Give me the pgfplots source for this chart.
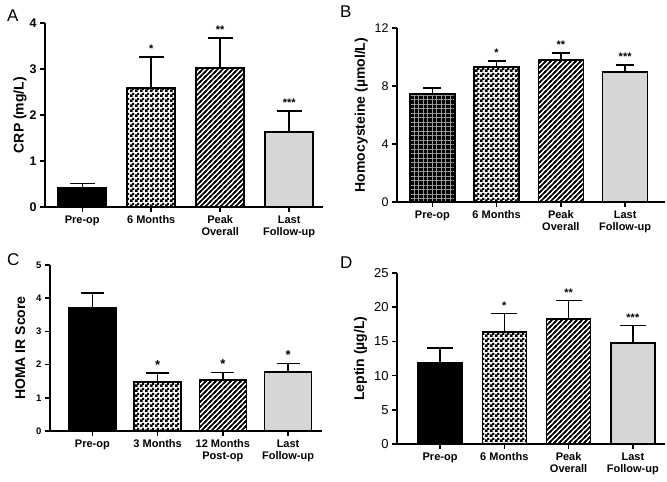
\documentclass[border=0pt]{standalone}
\usepackage{pgfplots}
\pgfplotsset{compat=1.18}
\usepackage{fontspec}
\setmainfont{Liberation Sans}
\usetikzlibrary{patterns,patterns.meta}
\newcommand{\fs}[1]{\fontsize{#1bp}{1.12\dimexpr #1bp\relax}\selectfont}
\tikzdeclarepattern{
  name=mychk, type=uncolored,
  bounding box={(0bp,0bp) and (5bp,5bp)},
  tile size={(5bp,5bp)},
  code={\fill (0bp,0bp) rectangle (3bp,3bp); \fill (2.5bp,2.5bp) rectangle (5bp,5bp);
        \fill (0bp,4.5bp) rectangle (0.5bp,5bp); \fill (4.5bp,0bp) rectangle (5bp,0.5bp);}
}
\tikzdeclarepattern{
  name=mydiag, type=uncolored,
  bounding box={(-1bp,-1bp) and (6bp,6bp)},
  tile size={(5bp,5bp)},
  code={\draw[line width=1.7bp] (-1bp,-1bp) -- (6bp,6bp);
        \draw[line width=1.7bp] (-1bp,4bp) -- (1bp,6bp);
        \draw[line width=1.7bp] (4bp,-1bp) -- (6bp,1bp);}
}
\pgfplotsset{
  panel/.style={
    scale only axis, axis lines*=left, anchor=south west, clip=false,
    ymin=0, xtick={0,1,2,3}, tick align=outside, major tick length=5bp,
    tick style={line width=1.5bp, black},
    axis line style={line width=1.8bp, black},
    xticklabel style={font=\fs{11}\bfseries, align=center},
    ylabel style={font=\fs{14}\bfseries},
    /pgf/number format/assume math mode=true,
  },
  mybar/.style={ybar, bar width=#1, bar shift=0pt, draw=black, line width=1.6bp,
    error bars/y dir=plus, error bars/y explicit,
    error bars/error bar style={line width=1.5bp, black}},
  star/.style={draw=none, nodes near coords, point meta=explicit symbolic,
    nodes near coords style={anchor=south, font=\fs{#1}\bfseries, inner sep=2bp, yshift=2bp}},
  pchk/.style={pattern=mychk, pattern color=black},
  plin/.style={pattern=mydiag, pattern color=black},
  pdot/.style={fill=black!16},
}
\begin{document}
\begin{tikzpicture}
\useasboundingbox (0bp,0bp) rectangle (667bp,-482bp);
% ---------- A ----------
\begin{axis}[panel, at={(45bp,-207bp)}, width=278bp, height=184bp,
  xmin=-0.54, xmax=3.49, ymax=4, ytick={0,1,2,3,4},
  yticklabel style={font=\fs{12.5}\bfseries},
  xticklabels={{Pre-op},{6 Months},{Peak\\Overall},{Last\\Follow-up}},
  ylabel={CRP (mg/L)}, ylabel shift=-4bp,
  error bars/error mark options={rotate=90, mark size=12.5bp, line width=1.5bp, black}]
\addplot[mybar=48bp, fill=black] coordinates {(0,0.42) +- (0,0.09)};
\addplot[mybar=48bp, pchk] coordinates {(1,2.59) +- (0,0.67)};
\addplot[mybar=48bp, plin] coordinates {(2,3.02) +- (0,0.65)};
\addplot[mybar=48bp, pdot] coordinates {(3,1.63) +- (0,0.46)};
\addplot[star=11] coordinates {(1,3.26)[*] (2,3.67)[**] (3,2.09)[***]};
\end{axis}
% ---------- B ----------
\begin{axis}[panel, at={(397bp,-202bp)}, width=268bp, height=174bp,
  xmin=-0.55, xmax=3.62, ymax=12, ytick={0,4,8,12},
  yticklabel style={font=\fs{12.5}},
  xticklabels={{Pre-op},{6 Months},{Peak\\Overall},{Last\\Follow-up}},
  ylabel={Homocysteine (µmol/L)},
  error bars/error mark options={rotate=90, mark size=9bp, line width=1.5bp, black}]
\addplot[mybar=45bp, fill=black,
  postaction={pattern={Lines[angle=0, distance=4.5bp, line width=0.5bp]}, pattern color=gray!80},
  postaction={pattern={Lines[angle=90, distance=4.5bp, line width=0.5bp]}, pattern color=gray!80}]
  coordinates {(0,7.45) +- (0,0.4)};
\addplot[mybar=45bp, pchk] coordinates {(1,9.3) +- (0,0.42)};
\addplot[mybar=45bp, plin] coordinates {(2,9.8) +- (0,0.47)};
\addplot[mybar=45bp, pdot] coordinates {(3,8.95) +- (0,0.5)};
\addplot[star=11] coordinates {(1,9.72)[*] (2,10.27)[**] (3,9.45)[***]};
\end{axis}
% ---------- C ----------
\begin{axis}[panel, at={(50bp,-431bp)}, width=272bp, height=166bp,
  xmin=-0.65, xmax=3.52, ymax=5, ytick={0,1,2,3,4,5},
  yticklabel style={font=\fs{9.5}\bfseries},
  xticklabels={{Pre-op},{3 Months},{12 Months\\Post-op},{Last\\Follow-up}},
  ylabel={HOMA IR Score}, ylabel shift=4bp,
  error bars/error mark options={rotate=90, mark size=11.5bp, line width=1.5bp, black}]
\addplot[mybar=47bp, fill=black] coordinates {(0,3.7) +- (0,0.46)};
\addplot[mybar=47bp, pchk] coordinates {(1,1.48) +- (0,0.26)};
\addplot[mybar=47bp, plin] coordinates {(2,1.54) +- (0,0.22)};
\addplot[mybar=47bp, pdot] coordinates {(3,1.77) +- (0,0.27)};
\addplot[star=13] coordinates {(1,1.74)[*] (2,1.76)[*] (3,2.04)[*]};
\end{axis}
% ---------- D ----------
\begin{axis}[panel, at={(397bp,-444bp)}, width=268bp, height=171bp,
  xmin=-0.67, xmax=3.5, ymax=25, ytick={0,5,10,15,20,25},
  yticklabel style={font=\fs{13}},
  xticklabels={{Pre-op},{6 Months},{Peak\\Overall},{Last\\Follow-up}},
  ylabel={Leptin (µg/L)},
  error bars/error mark options={rotate=90, mark size=13bp, line width=1.5bp, black}]
\addplot[mybar=44bp, fill=black] coordinates {(0,11.8) +- (0,2.2)};
\addplot[mybar=44bp, pchk] coordinates {(1,16.4) +- (0,2.7)};
\addplot[mybar=44bp, plin] coordinates {(2,18.3) +- (0,2.7)};
\addplot[mybar=44bp, pdot] coordinates {(3,14.8) +- (0,2.5)};
\addplot[star=11] coordinates {(1,19.1)[*] (2,21.0)[**] (3,17.3)[***]};
\end{axis}
% panel letters
\node[anchor=base west, inner sep=0, font=\fs{17}] at (7bp,-21bp) {A};
\node[anchor=base west, inner sep=0, font=\fs{17}] at (340bp,-17bp) {B};
\node[anchor=base west, inner sep=0, font=\fs{17}] at (7bp,-265bp) {C};
\node[anchor=base west, inner sep=0, font=\fs{17}] at (340bp,-268bp) {D};
\end{tikzpicture}
\end{document}
